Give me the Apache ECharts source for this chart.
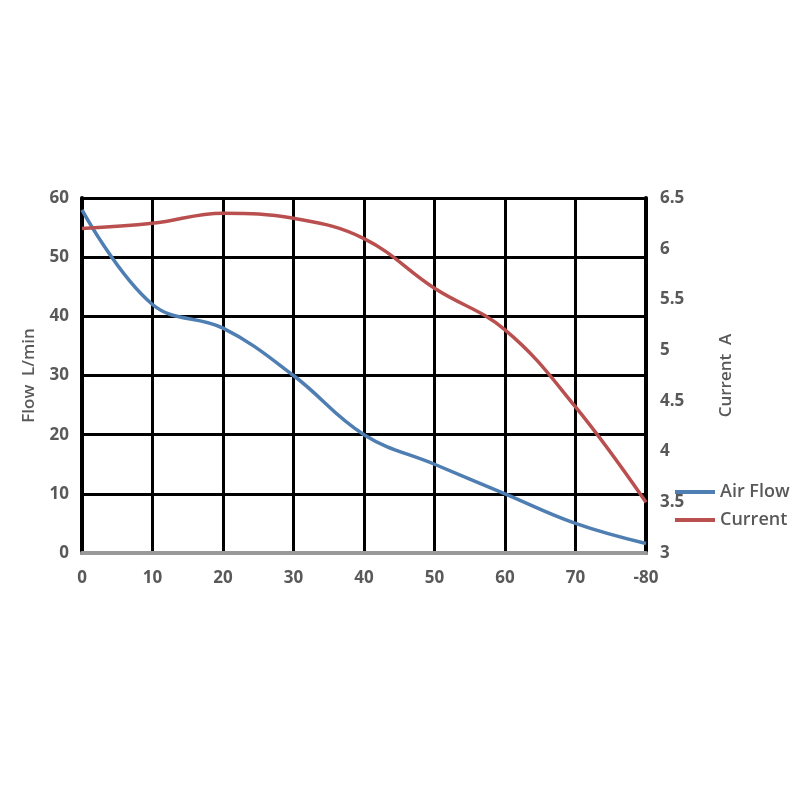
<!DOCTYPE html>
<html>
<head>
<meta charset="utf-8">
<script src="https://cdn.jsdelivr.net/npm/echarts@6/dist/echarts.min.js"></script>
<style>html,body{margin:0;padding:0;background:#fff;}#c{width:800px;height:800px;}</style>
</head>
<body>
<div id="c"></div>
<script>
const categories = ['0','10','20','30','40','50','60','70','-80'];
const airFlow = [58, 42, 38, 30, 20, 15, 10, 5, 1.6];
const current = [6.2, 6.25, 6.35, 6.3, 6.1, 5.61, 5.2, 4.44, 3.5];
const flowTicks = {min: 0, max: 60, interval: 10};
const currentTicks = {min: 3, max: 6.5, interval: 0.5};

const labelStyle = {color: '#595959', fontSize: 17, fontWeight: 'bold', fontFamily: 'Open Sans'};
const chart = echarts.init(document.getElementById('c'));
chart.setOption({
  animation: false,
  grid: {left: 82, right: 154, top: 198, bottom: 247, show: false},
  legend: {
    orient: 'vertical', left: 670, top: 478,
    icon: 'rect', itemWidth: 40, itemHeight: 4, itemGap: 10,
    textStyle: {color: '#595959', fontSize: 18, fontFamily: 'Open Sans', fontWeight: 600},
    data: ['Air Flow', 'Current']
  },
  xAxis: {
    type: 'category', data: categories, boundaryGap: false,
    axisLine: {show: true, lineStyle: {color: '#999', width: 4}},
    axisTick: {show: false},
    axisLabel: Object.assign({margin: 17}, labelStyle),
    splitLine: {show: true, lineStyle: {color: '#000', width: 3}}
  },
  yAxis: [{
    type: 'value', min: flowTicks.min, max: flowTicks.max, interval: flowTicks.interval,
    name: 'Flow  L/min', nameLocation: 'middle', nameGap: 44, nameRotate: 90,
    nameTextStyle: {color: '#595959', fontSize: 17, fontWeight: 600, fontFamily: 'Open Sans'},
    axisLine: {show: true, lineStyle: {color: '#000', width: 4}},
    axisTick: {show: false},
    axisLabel: Object.assign({margin: 13}, labelStyle),
    splitLine: {show: true, lineStyle: {color: '#000', width: 3}}
  }, {
    type: 'value', min: currentTicks.min, max: currentTicks.max, interval: currentTicks.interval,
    position: 'right',
    name: 'Current  A', nameLocation: 'middle', nameGap: 72, nameRotate: 90,
    nameTextStyle: {color: '#595959', fontSize: 17, fontWeight: 600, fontFamily: 'Open Sans'},
    axisLine: {show: true, lineStyle: {color: '#000', width: 4}},
    axisTick: {show: false},
    axisLabel: Object.assign({margin: 14}, labelStyle),
    splitLine: {show: false}
  }],
  series: [{
    name: 'Air Flow', type: 'line', data: airFlow, smooth: 0.4, yAxisIndex: 0,
    showSymbol: false, symbol: 'none',
    lineStyle: {color: '#4f7fb2', width: 3.5}, itemStyle: {color: '#4f7fb2'}
  }, {
    name: 'Current', type: 'line', data: current, smooth: 0.4, yAxisIndex: 1,
    showSymbol: false, symbol: 'none',
    lineStyle: {color: '#b9504f', width: 3.5}, itemStyle: {color: '#b9504f'}
  }]
});
</script>
</body>
</html>
